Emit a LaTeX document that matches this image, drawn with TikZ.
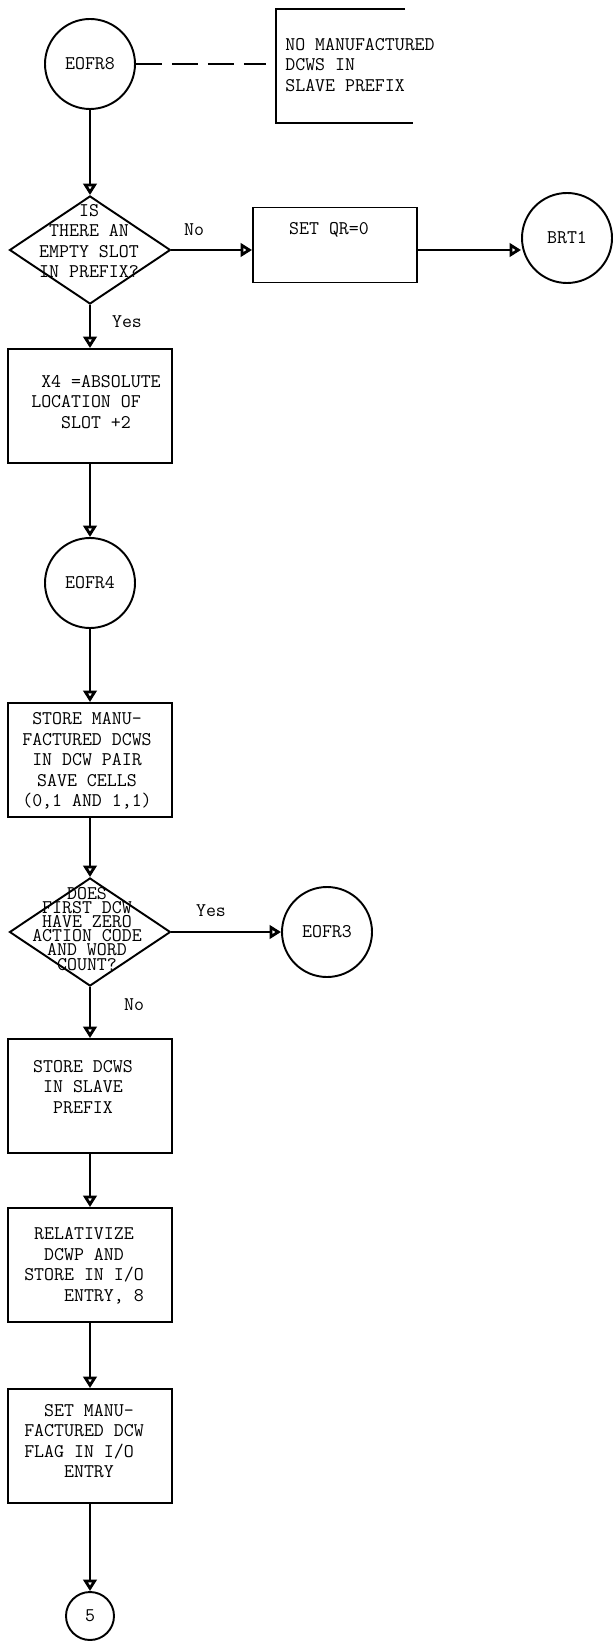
\documentclass[tikz,border=0pt]{standalone}
\usepackage{tikz}
\usetikzlibrary{arrows.meta,shapes.geometric}

\begin{document}
\begin{tikzpicture}[
    x=0.02cm, y=-0.02cm,
    >={Triangle[open,length=2.3mm,width=2.7mm,line width=1.6pt]},
    every node/.style={font=\fontsize{11}{11.7}\selectfont\ttfamily},
    box/.style={draw,line width=1.1pt,inner sep=0pt,
                minimum width=164*\pu,minimum height=114*\pu},
    boxtext/.style={align=center,inner sep=0pt},
    dec/.style={draw,diamond,line width=1.1pt,inner sep=0pt,
                minimum width=161*\pu,minimum height=108*\pu},
    conn/.style={draw,circle,line width=1.1pt,inner sep=0pt,minimum size=90*\pu},
    lbl/.style={inner sep=0pt},
    flow/.style={->,line width=1.1pt},
    aside/.style={line width=1.1pt,dash pattern=on 0.52cm off 0.2cm},
  ]
  \def\pu{0.02cm}
  \useasboundingbox (0,0) rectangle (613,1648);

  % -- entry point and the note beside it --
  \node[conn] (eofr8) at (90,64) {EOFR8};
  \node[lbl,anchor=west,align=left] (note) at (285,65)
       {NO MANUFACTURED\\DCWS IN\\SLAVE PREFIX};
  \draw[line width=1.1pt] (405,9) -- (276,9) -- (276,123) -- (413,123);
  \coordinate (notein) at (276,68);
  \draw[aside,shorten >=0.2cm] (eofr8) -- (eofr8 -| notein);

  % -- is there a free slot? --
  \node[dec] (q1) at (90,250) {};
  \node[boxtext] (q1t) at (89,241) {IS\\THERE AN\\EMPTY SLOT\\IN PREFIX?};
  \node[box,minimum height=75*\pu] (setqr) at (335,245) {};
  \node[boxtext] (setqrt) at (329,230) {SET QR=0};
  \node[conn] (brt1) at (567,238) {BRT1};
  \node[lbl] (lno1) at (194,230) {No};
  \node[lbl] (lyes1) at (127,322) {Yes};

  \draw[flow] (eofr8) -- (q1);
  \draw[flow] (q1) -- (q1 -| setqr.west);
  \draw[flow] (setqr.east |- q1) -- (q1 -| brt1.west);

  % -- main column --
  \node[box] (x4) at (90,406) {};
  \node[boxtext,align=left] (x4t) at (96,402)
       {~X4 =ABSOLUTE\\LOCATION OF\\~~~SLOT +2};
  \node[conn] (eofr4) at (90,583) {EOFR4};
  \node[box] (store1) at (90,760) {};
  \node[boxtext] (store1t) at (87,761)
       {STORE MANU-\\FACTURED DCWS\\IN DCW PAIR\\SAVE CELLS\\(0,1 AND 1,1)};

  \draw[flow] (q1) -- (x4);
  \draw[flow] (x4) -- (eofr4);
  \draw[flow] (eofr4) -- (store1);

  % -- zero action code and word count? --
  \node[dec] (q2) at (90,932) {};
  \node[boxtext,font=\fontsize{11}{8}\selectfont\ttfamily] (q2t) at (87,929)
       {DOES\\FIRST DCW\\HAVE ZERO\\ACTION CODE\\AND WORD\\COUNT?};
  \node[conn] (eofr3) at (327,932) {EOFR3};
  \node[lbl] (lyes2) at (211,911) {Yes};
  \node[lbl] (lno2) at (134,1005) {No};

  \draw[flow] (store1) -- (q2);
  \draw[flow] (q2) -- (eofr3);

  % -- store, relativize, flag --
  \node[box] (store2) at (90,1096) {};
  \node[boxtext] (store2t) at (83,1087) {STORE DCWS\\IN SLAVE\\PREFIX};
  \node[box] (relat) at (90,1265) {};
  \node[boxtext,align=left] (relatt) at (84,1266)
       {~RELATIVIZE\\~~DCWP AND\\STORE IN I/O\\~~~~ENTRY, 8};
  \node[box] (setmanu) at (90,1446) {};
  \node[boxtext,align=left] (setmanut) at (84,1441)
       {~~SET MANU-\\FACTURED DCW\\FLAG IN I/O\\~~~~ENTRY};
  \node[conn,minimum size=48*\pu] (c5) at (90,1616) {5};

  \draw[flow] (q2) -- (store2);
  \draw[flow] (store2) -- (relat);
  \draw[flow] (relat) -- (setmanu);
  \draw[flow] (setmanu) -- (c5);
\end{tikzpicture}
\end{document}
